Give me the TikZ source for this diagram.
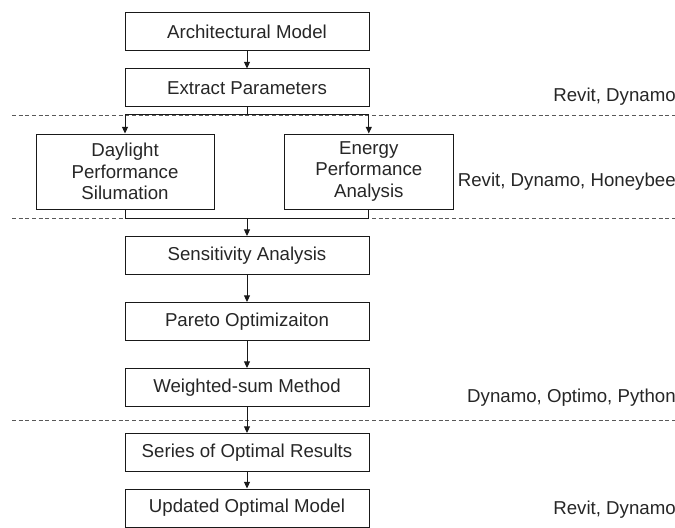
\documentclass[tikz,border=0pt]{standalone}
\usepackage{fontspec}
\setmainfont{Liberation Sans}
\usetikzlibrary{arrows.meta}

\begin{document}
\begin{tikzpicture}[x=0.75pt, y=-0.75pt,
	box/.style={draw=black!90, line width=0.75pt, text=black!85, align=center, inner sep=0pt,
		font=\fontsize{14}{16}\selectfont, minimum width=183pt, minimum height=28.5pt},
	tool/.style={anchor=east, inner sep=0pt, text=black!85, font=\fontsize{14}{16}\selectfont},
	sep/.style={black!65, line width=0.6pt, dash pattern=on 3pt off 2pt},
	link/.style={draw=black!90, line width=0.75pt},
	arr/.style={link, -{Triangle[length=5pt, width=4.5pt]}}]
		%%%%% START %%%%%
		\useasboundingbox (0, 0) rectangle (675, 528);
		
		\draw[sep] (12, 115) -- (675, 115);
		\draw[sep] (12, 218) -- (675, 218);
		\draw[sep] (12, 420) -- (675, 420);
		
		\node[box] (archmodel) at (247, 32) {Architectural Model};
		\node[box] (extract) at (247, 88) {Extract Parameters};
		
		\node[box, minimum width=133.5pt, minimum height=56.25pt] (daylight) at (125, 171.5) {Daylight\\Performance\\Silumation};
		\node[box, minimum width=126.75pt, minimum height=56.25pt] (energy) at (368.8, 171.5) {Energy\\Performance\\Analysis};
		
		\node[box] (sensitivity) at (247, 255.5) {Sensitivity Analysis};
		\node[box] (pareto) at (247, 321.5) {Pareto Optimizaiton};
		\node[box] (weighted) at (247, 387.5) {Weighted-sum Method};
		\node[box] (series) at (247, 452.5) {Series of Optimal Results};
		\node[box] (updated) at (247, 508) {Updated Optimal Model};
		
		\node[tool] (tools1) at (676, 97) {Revit, Dynamo};
		\node[tool] (tools2) at (676, 182) {Revit, Dynamo, Honeybee};
		\node[tool] (tools3) at (676, 398) {Dynamo, Optimo, Python};
		\node[tool] (tools4) at (676, 510) {Revit, Dynamo};
		
		\coordinate (split) at (247, 115);
		\coordinate (join) at (247, 218);
		
		\draw[arr] (archmodel) -- (extract);
		\draw[link] (extract) -- (split);
		\draw[arr] (split) -| (daylight.north);
		\draw[arr] (split) -| (energy.north);
		\draw[link] (daylight.south) |- (join);
		\draw[link] (energy.south) |- (join);
		\draw[arr] (join) -- (sensitivity);
		\draw[arr] (sensitivity) -- (pareto);
		\draw[arr] (pareto) -- (weighted);
		\draw[arr] (weighted) -- (series);
		\draw[arr] (series) -- (updated);
		
		%%%%% END %%%%%
	\end{tikzpicture}
\end{document}
